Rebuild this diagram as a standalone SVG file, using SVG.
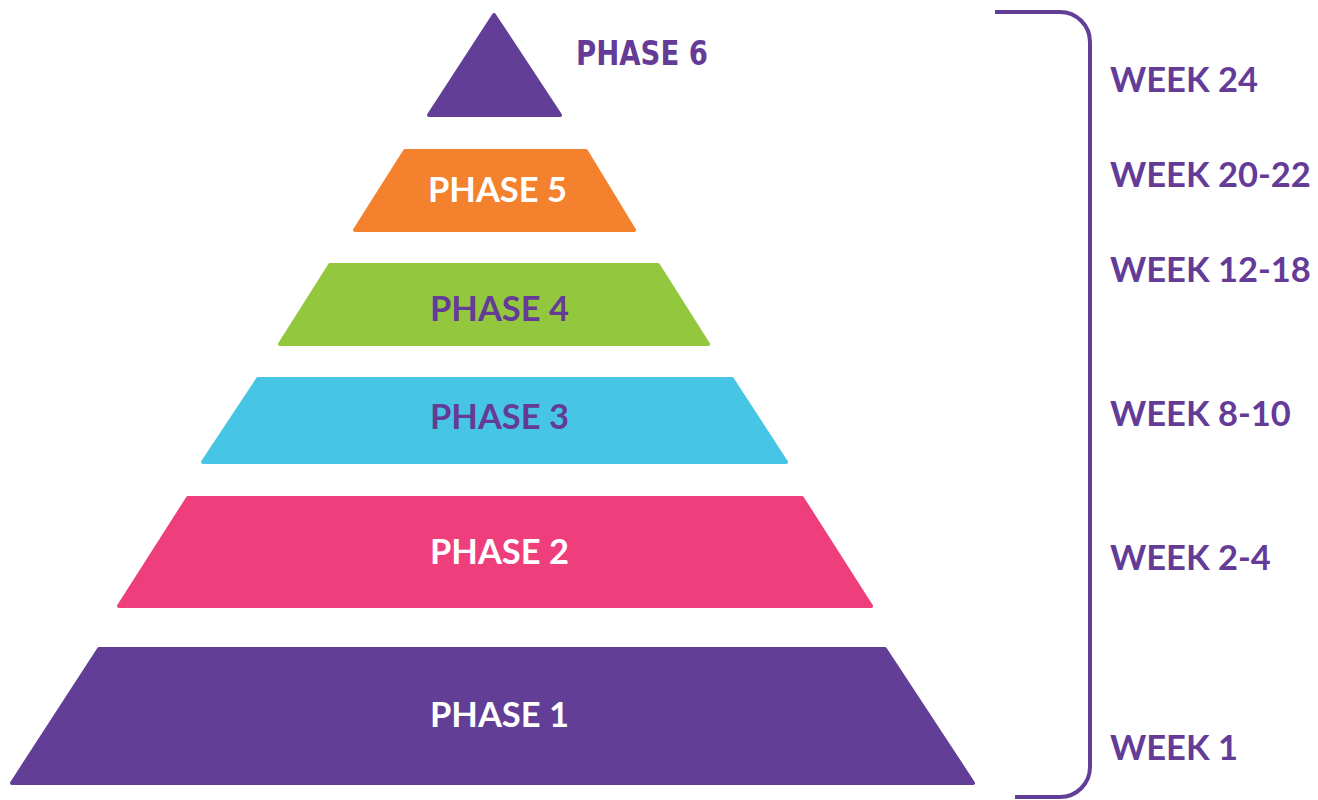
<svg xmlns="http://www.w3.org/2000/svg" width="1318" height="800" viewBox="0 0 1318 800">
  <style>
    .tier { stroke-width: 4; stroke-linejoin: round; }
    .lbl { font-family: "Lato", "Open Sans", "Liberation Sans", sans-serif; font-weight: 700; font-size: 34.5px; text-anchor: middle; }
    .week { font-family: "Lato", "Open Sans", "Liberation Sans", sans-serif; font-weight: 700; font-size: 34.5px; fill: #643c98; }
    .top { font-family: "Liberation Sans Narrow", "DejaVu Sans Condensed", sans-serif; font-weight: 700; font-size: 33px; fill: #643c98; }
    .white { fill: #ffffff; }
    .purple { fill: #643c98; }
  </style>
  <rect width="1318" height="800" fill="#ffffff"/>

  <g id="phase1">
    <polygon class="tier" fill="#623e96" stroke="#623e96" points="99,649 885,649 973,783 12,783"/>
    <text class="lbl white" x="499.5" y="727">PHASE 1</text>
  </g>
  <g id="phase2">
    <polygon class="tier" fill="#ee3e7c" stroke="#ee3e7c" points="188,498 802,498 871,606 119,606"/>
    <text class="lbl white" x="499.5" y="564">PHASE 2</text>
  </g>
  <g id="phase3">
    <polygon class="tier" fill="#47c5e4" stroke="#47c5e4" points="258,379 732,379 786,462 203,462"/>
    <text class="lbl purple" x="499.5" y="429">PHASE 3</text>
  </g>
  <g id="phase4">
    <polygon class="tier" fill="#93c83e" stroke="#93c83e" points="330,265 658,265 708,344 280,344"/>
    <text class="lbl purple" x="499.5" y="321">PHASE 4</text>
  </g>
  <g id="phase5">
    <polygon class="tier" fill="#f3812d" stroke="#f3812d" points="405,151 586,151 634,230 355,230"/>
    <text class="lbl white" x="497.5" y="202">PHASE 5</text>
  </g>
  <g id="phase6">
    <polygon class="tier" fill="#623e96" stroke="#623e96" points="494,15 560,115 429,115"/>
    <text class="top" x="576" y="65" textLength="132" lengthAdjust="spacingAndGlyphs">PHASE 6</text>
  </g>

  <g id="connectors">
    <path d="M995,12 H1060 A30,30 0 0 1 1090,42 V767 A30,30 0 0 1 1060,797 H1015" fill="none" stroke="#623e96" stroke-width="4"/>
  </g>

  <g id="weeks">
    <text class="week" x="1110" y="92">WEEK 24</text>
    <text class="week" x="1110" y="187">WEEK 20-22</text>
    <text class="week" x="1110" y="282">WEEK 12-18</text>
    <text class="week" x="1110" y="426">WEEK 8-10</text>
    <text class="week" x="1110" y="570">WEEK 2-4</text>
    <text class="week" x="1110" y="760">WEEK 1</text>
  </g>
</svg>
